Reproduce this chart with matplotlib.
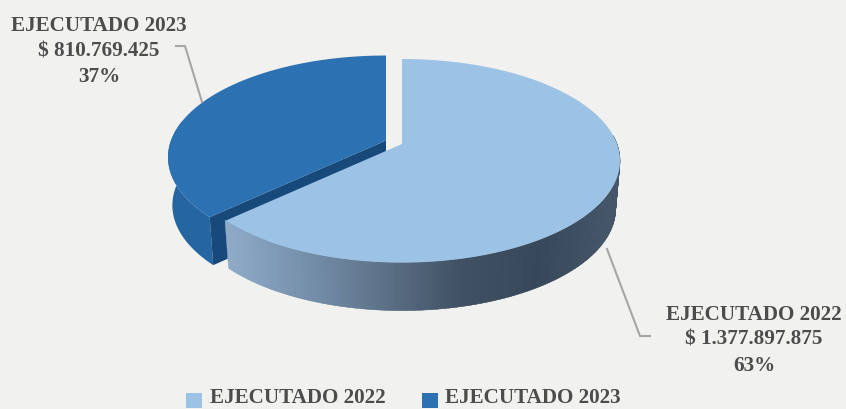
import numpy as np
import matplotlib
matplotlib.use("Agg")
import matplotlib.pyplot as plt
from matplotlib.patches import Polygon, Rectangle
from matplotlib.colors import LinearSegmentedColormap

series = ["EJECUTADO 2022", "EJECUTADO 2023"]
values = [1377897875, 810769425]
value_labels = ["$ 1.377.897.875", "$ 810.769.425"]
pct_labels = ["63%", "37%"]

W, H = 846, 410
BG = "#f1f1ef"
TXT = "#4c4c4c"
LEAD = "#a6a6a6"
TOP = ["#9cc2e5", "#2c71b1"]
CUT = "#17497a"
DARK_SIDE = "#2566a2"
LIGHT_GRAD = LinearSegmentedColormap.from_list(
    "g", ["#8fabc8", "#7690ab", "#5d7288", "#3f5163", "#36485a", "#46566a"])

RX, RY, K, DEPTH, BSCALE = 215.0, 99.0, 0.165, 48.0, 0.98
APEX = [(402.0, 145.0), (386.0, 141.5)]

fig = plt.figure(figsize=(W / 100, H / 100), dpi=100, facecolor=BG)
ax = fig.add_axes([0, 0, 1, 1])
ax.set_xlim(0, W)
ax.set_ylim(H, 0)
ax.axis("off")


def top_pt(t, c):
    X, Y = np.sin(t), -np.cos(t)
    s = 1.0 / (1.0 - K * Y)
    return c[0] + RX * X * s, c[1] + RY * Y * s


def bottom_pt(t, c):
    x, y = top_pt(t, c)
    return c[0] + (x - c[0]) * BSCALE, y + DEPTH


fracs = np.array(values, dtype=float) / sum(values)
split = 2 * np.pi * fracs[0]

# dark slice (back)
c = APEX[1]
ts = np.linspace(split, 2 * np.pi, 200)
side = ts[ts < split + np.radians(55)]
tx, ty = top_pt(side, c)
bx, by = bottom_pt(side, c)
ax.add_patch(Polygon(np.r_[np.c_[tx, ty], np.c_[bx, by][::-1]], fc=DARK_SIDE, ec="none"))
cx0, cy0 = top_pt(split, c)
cx1, cy1 = bottom_pt(split, c)
ax.add_patch(Polygon([(cx0, cy0), (cx1, cy1), (c[0], c[1] + DEPTH), c], fc=CUT, ec="none"))
tx, ty = top_pt(ts, c)
ax.add_patch(Polygon(np.r_[[c], np.c_[tx, ty]], fc=TOP[1], ec="none"))

# light slice (front)
c = APEX[0]
edges = np.linspace(np.radians(85), split, 240)
xmin, xmax = top_pt(split, c)[0], top_pt(np.pi / 2, c)[0]
for a, b in zip(edges[:-1], edges[1:]):
    tt = np.array([a, b + 0.005])
    tx, ty = top_pt(tt, c)
    bx, by = bottom_pt(tt, c)
    shade = LIGHT_GRAD(np.clip((tx.mean() - xmin) / (xmax - xmin), 0, 1))
    ax.add_patch(Polygon(np.r_[np.c_[tx, ty], np.c_[bx, by][::-1]], fc=shade, ec=shade, lw=0.3))
ts = np.linspace(0, split, 300)
tx, ty = top_pt(ts, c)
ax.add_patch(Polygon(np.r_[[c], np.c_[tx, ty]], fc=TOP[0], ec="none"))

# leader lines
ax.plot([607, 640, 650], [250, 337, 337], color=LEAD, lw=1.5, solid_joinstyle="miter")
ax.plot([176, 185, 202], [47, 47, 103], color=LEAD, lw=1.5, solid_joinstyle="miter")

# data labels
FONT = dict(family="Liberation Serif", weight="bold", color=TXT, fontsize=15.2,
            ha="center", va="center")
for (x, ys), name, val, pct in zip([(754, (315, 340, 366)), (99, (26, 52, 77))],
                                   series, value_labels, pct_labels):
    for y, s in zip(ys, (name, val, pct)):
        ax.text(x, y, s, **FONT)

# legend
for x0, tx0, col, name in zip((186, 422), (210, 445), TOP, series):
    ax.add_patch(Rectangle((x0, 394), 16, 15, fc=col, ec="none"))
    ax.text(tx0, 398, name, **{**FONT, "ha": "left"})

fig.savefig("out.png", dpi=100, facecolor=BG)
